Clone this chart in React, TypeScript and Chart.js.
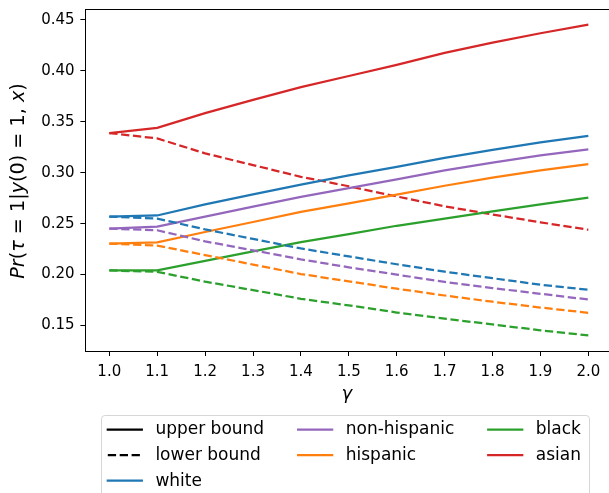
import React, { useEffect, useRef } from "react";
import { Chart, registerables } from "chart.js";

Chart.register(...registerables);

// ---------- data ----------
const GAMMA = [1.0, 1.1, 1.2, 1.3, 1.4, 1.5, 1.6, 1.7, 1.8, 1.9, 2.0];

const WHITE_UPPER = [0.257, 0.258, 0.269, 0.2787, 0.2884, 0.2974, 0.3058, 0.3145, 0.3225, 0.3298, 0.3363];
const WHITE_LOWER = [0.257, 0.255, 0.2443, 0.235, 0.2256, 0.2178, 0.2101, 0.2028, 0.1964, 0.190, 0.185];
const NONHISP_UPPER = [0.245, 0.247, 0.2569, 0.2666, 0.2763, 0.2848, 0.2935, 0.3023, 0.310, 0.317, 0.323];
const NONHISP_LOWER = [0.245, 0.2435, 0.2326, 0.2238, 0.2149, 0.2071, 0.1999, 0.1928, 0.1867, 0.1811, 0.1755];
const HISP_UPPER = [0.2304, 0.2317, 0.2418, 0.2516, 0.2615, 0.2699, 0.2784, 0.2872, 0.2951, 0.3023, 0.3085];
const HISP_LOWER = [0.2304, 0.2284, 0.2191, 0.2098, 0.2005, 0.1933, 0.1861, 0.1794, 0.1733, 0.1676, 0.1624];
const BLACK_UPPER = [0.204, 0.204, 0.2135, 0.2227, 0.2318, 0.2397, 0.2479, 0.255, 0.262, 0.269, 0.2755];
const BLACK_LOWER = [0.204, 0.2027, 0.193, 0.1847, 0.1762, 0.1697, 0.1627, 0.1566, 0.151, 0.1452, 0.1402];
const ASIAN_UPPER = [0.339, 0.344, 0.3585, 0.3716, 0.384, 0.395, 0.406, 0.4177, 0.4278, 0.437, 0.4455];
const ASIAN_LOWER = [0.339, 0.3337, 0.319, 0.3075, 0.296, 0.2867, 0.2767, 0.267, 0.259, 0.2513, 0.244];

const GROUPS = ["white", "non-hispanic", "hispanic", "black", "asian"];
const GROUP_COLORS = ["#1f77b4", "#9467bd", "#ff7f0e", "#2ca02c", "#d62728"];
const UPPER_SERIES = [WHITE_UPPER, NONHISP_UPPER, HISP_UPPER, BLACK_UPPER, ASIAN_UPPER];
const LOWER_SERIES = [WHITE_LOWER, NONHISP_LOWER, HISP_LOWER, BLACK_LOWER, ASIAN_LOWER];

const X_TICKS = [1.0, 1.1, 1.2, 1.3, 1.4, 1.5, 1.6, 1.7, 1.8, 1.9, 2.0];
const X_TICK_LABELS = ["1.0", "1.1", "1.2", "1.3", "1.4", "1.5", "1.6", "1.7", "1.8", "1.9", "2.0"];
const Y_TICKS = [0.15, 0.2, 0.25, 0.3, 0.35, 0.4, 0.45];
const Y_TICK_LABELS = ["0.15", "0.20", "0.25", "0.30", "0.35", "0.40", "0.45"];

const X_MIN = 0.95;
const X_MAX = 2.05;
const Y_MIN = 0.1249;
const Y_MAX = 0.4608;

// legend (column-major, like matplotlib ncol=3)
const LEGEND_LABELS = ["upper bound", "lower bound", "white", "non-hispanic", "hispanic", "black", "asian"];
const LEGEND_COLORS = ["#000000", "#000000", "#1f77b4", "#9467bd", "#ff7f0e", "#2ca02c", "#d62728"];
const LEGEND_DASHED = [false, true, false, false, false, false, false];
const LEGEND_COLUMNS = [[0, 1, 2], [3, 4], [5, 6]];

// y-axis title pieces: [text, italic]
const Y_TITLE: [string, boolean][] = [
  ["Pr", true], ["(", false], ["τ", true], [" = 1|", false], ["y", true],
  ["(0) = 1, ", false], ["x", true], [")", false],
];
const X_TITLE = "γ";

// ---------- styles ----------
const FONT = '"DejaVu Sans", sans-serif';
const LW = 2.25;
const DASH = [8.3, 3.6];
const CANVAS_W = 630;
const CANVAS_H = 493;

const decorPlugin = {
  id: "decor",
  afterDatasetsDraw(chart: any) {
    const { ctx, chartArea } = chart;
    const a = (p: number) => Math.round(p - 0.5) + 0.5;
    ctx.save();
    ctx.strokeStyle = "#000";
    ctx.lineWidth = 1;
    ctx.beginPath();
    ctx.moveTo(a(chartArea.left), a(chartArea.top));
    ctx.lineTo(a(chartArea.right), a(chartArea.top));
    ctx.lineTo(a(chartArea.right), a(chartArea.bottom));
    ctx.stroke();
    ctx.restore();
  },
  afterDraw(chart: any) {
    const { ctx, chartArea } = chart;
    ctx.save();
    // y title
    const size = 19.2;
    const fontOf = (it: boolean) => `${it ? "italic " : ""}${size}px ${FONT}`;
    let total = 0;
    const widths = Y_TITLE.map(([t, it]) => {
      ctx.font = fontOf(it);
      const w = ctx.measureText(t).width;
      total += w;
      return w;
    });
    const cy = (chartArea.top + chartArea.bottom) / 2 + 1;
    ctx.translate(19, cy);
    ctx.rotate(-Math.PI / 2);
    ctx.fillStyle = "#000";
    ctx.textBaseline = "middle";
    ctx.textAlign = "left";
    let x = -total / 2;
    Y_TITLE.forEach(([t, it], i) => {
      ctx.font = fontOf(it);
      ctx.fillText(t, x, 0);
      x += widths[i];
    });
    ctx.setTransform(1, 0, 0, 1, 0, 0);

    // x title
    ctx.font = `italic 18px ${FONT}`;
    ctx.textAlign = "center";
    ctx.textBaseline = "middle";
    ctx.fillText(X_TITLE, (chartArea.left + chartArea.right) / 2 - 2, chartArea.bottom + 43);

    // legend
    const fs = 17;
    ctx.font = `${fs}px ${FONT}`;
    const left = 101;
    const top = 415;
    const pad = 0.4 * fs;
    const handleLen = 2 * fs;
    const textPad = 0.8 * fs;
    const colSpace = 2 * fs;
    const rowPitch = 25.6;
    const firstRow = 429.5;
    let cx = left + pad;
    let rightEdge = cx;
    const items: { i: number; hx: number; y: number; tx: number }[] = [];
    LEGEND_COLUMNS.forEach((col) => {
      let maxW = 0;
      col.forEach((idx, r) => {
        const w = ctx.measureText(LEGEND_LABELS[idx]).width;
        maxW = Math.max(maxW, w);
        items.push({ i: idx, hx: cx, y: firstRow + r * rowPitch, tx: cx + handleLen + textPad });
      });
      rightEdge = cx + handleLen + textPad + maxW;
      cx = rightEdge + colSpace;
    });
    const right = Math.max(rightEdge + pad, 590);
    const bottom = top + 2 * pad + 3 * rowPitch;
    // frame
    const rr = 0.2 * fs;
    ctx.beginPath();
    const L = left + 0.5, T = top + 0.5, R = right - 0.5, B = bottom;
    ctx.moveTo(L + rr, T);
    ctx.lineTo(R - rr, T);
    ctx.quadraticCurveTo(R, T, R, T + rr);
    ctx.lineTo(R, B - rr);
    ctx.quadraticCurveTo(R, B, R - rr, B);
    ctx.lineTo(L + rr, B);
    ctx.quadraticCurveTo(L, B, L, B - rr);
    ctx.lineTo(L, T + rr);
    ctx.quadraticCurveTo(L, T, L + rr, T);
    ctx.closePath();
    ctx.fillStyle = "rgba(255,255,255,0.8)";
    ctx.fill();
    ctx.strokeStyle = "#d6d6d6";
    ctx.lineWidth = 1;
    ctx.stroke();
    items.forEach(({ i, hx, y, tx }) => {
      ctx.strokeStyle = LEGEND_COLORS[i];
      ctx.lineWidth = LW;
      if (LEGEND_DASHED[i]) {
        ctx.setLineDash(DASH);
        ctx.lineCap = "butt";
        ctx.beginPath();
        ctx.moveTo(hx, y);
        ctx.lineTo(hx + handleLen, y);
        ctx.stroke();
        ctx.setLineDash([]);
      } else {
        ctx.lineCap = "square";
        ctx.beginPath();
        ctx.moveTo(hx, y);
        ctx.lineTo(hx + handleLen, y);
        ctx.stroke();
      }
      ctx.fillStyle = "#000";
      ctx.textAlign = "left";
      ctx.textBaseline = "middle";
      ctx.fillText(LEGEND_LABELS[i], tx, y + 0.5);
    });
    ctx.restore();
  },
};

export default function App() {
  const ref = useRef<HTMLCanvasElement | null>(null);
  useEffect(() => {
    document.body.style.margin = "0";
    document.body.style.overflow = "hidden";
    const canvas = ref.current;
    if (!canvas) return;
    const datasets: any[] = [];
    GROUPS.forEach((g, gi) => {
      datasets.push({
        label: `${g} upper`,
        data: GAMMA.map((x, k) => ({ x, y: UPPER_SERIES[gi][k] })),
        borderColor: GROUP_COLORS[gi],
        borderWidth: LW,
        pointRadius: 0,
        fill: false,
        tension: 0,
      });
      datasets.push({
        label: `${g} lower`,
        data: GAMMA.map((x, k) => ({ x, y: LOWER_SERIES[gi][k] })),
        borderColor: GROUP_COLORS[gi],
        borderWidth: LW,
        borderDash: DASH,
        pointRadius: 0,
        fill: false,
        tension: 0,
      });
    });
    const chart = new Chart(canvas, {
      type: "line",
      data: { datasets },
      options: {
        animation: false,
        responsive: false,
        events: [],
        layout: { padding: { left: 0, top: 9, right: CANVAS_W - 612.3, bottom: 87 } },
        plugins: { legend: { display: false }, tooltip: { enabled: false }, title: { display: false } },
        scales: {
          x: {
            type: "linear",
            min: X_MIN,
            max: X_MAX,
            afterBuildTicks: (s: any) => {
              s.ticks = X_TICKS.map((v) => ({ value: v }));
            },
            afterFit: (s: any) => {
              s.height = 55;
              s.paddingLeft = 0;
              s.paddingRight = 0;
            },
            grid: { drawOnChartArea: false, drawTicks: true, tickLength: 5, color: "#000", lineWidth: 1 },
            border: { display: true, color: "#000", width: 1 },
            ticks: {
              autoSkip: false,
              maxRotation: 0,
              padding: 7,
              color: "#000",
              font: { family: FONT, size: 15 },
              callback: (_v: any, i: number) => X_TICK_LABELS[i],
            },
          },
          y: {
            type: "linear",
            min: Y_MIN,
            max: Y_MAX,
            afterBuildTicks: (s: any) => {
              s.ticks = Y_TICKS.map((v) => ({ value: v }));
            },
            afterFit: (s: any) => {
              s.width = 85.35;
              s.paddingTop = 0;
              s.paddingBottom = 0;
            },
            grid: { drawOnChartArea: false, drawTicks: true, tickLength: 5, color: "#000", lineWidth: 1 },
            border: { display: true, color: "#000", width: 1 },
            ticks: {
              autoSkip: false,
              padding: 5.8,
              color: "#000",
              font: { family: FONT, size: 15 },
              callback: (_v: any, i: number) => Y_TICK_LABELS[i],
            },
          },
        },
      } as any,
      plugins: [decorPlugin],
    });
    return () => chart.destroy();
  }, []);
  return (
    <div style={{ position: "absolute", left: 0, top: 0, width: 609, height: 493, overflow: "hidden", background: "#fff" }}>
      <canvas ref={ref} width={CANVAS_W} height={CANVAS_H} style={{ display: "block" }} />
    </div>
  );
}
